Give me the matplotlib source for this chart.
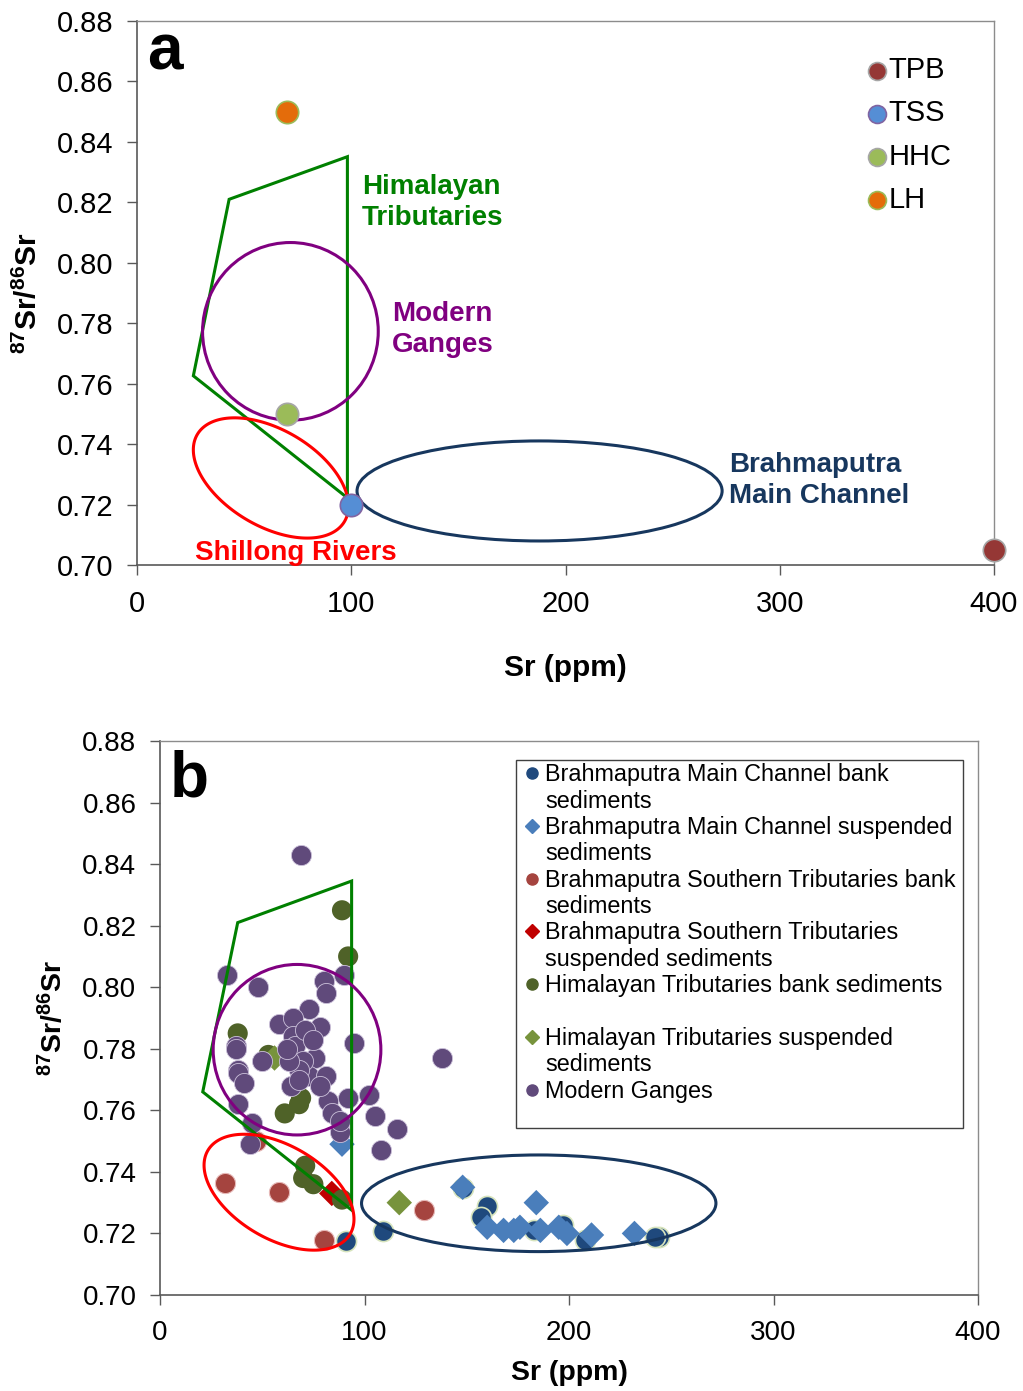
import numpy as np
import matplotlib
matplotlib.use("Agg")
import matplotlib.pyplot as plt
from matplotlib.patches import Ellipse, Polygon, Rectangle
from matplotlib.lines import Line2D

plt.rcParams['font.family'] = ['Liberation Sans', 'DejaVu Sans']
plt.rcParams['mathtext.fontset'] = 'custom'
plt.rcParams['mathtext.rm'] = 'Liberation Sans'
plt.rcParams['mathtext.bf'] = 'Liberation Sans:bold'

# ---------------- data: panel a (end-members) ----------------
src_names = ['TPB', 'TSS', 'HHC', 'LH']
src_sr = [400, 100, 70, 70]
src_ratio = [0.705, 0.720, 0.750, 0.850]
src_colors = ['#953735', '#558ED5', '#9BBB59', '#E46C0A']

# ---------------- data: panel b ----------------
mb_sr = [91, 109, 148, 160, 157, 183, 197, 208, 244, 242]
mb_ratio = [0.7176, 0.7207, 0.7348, 0.729, 0.7254, 0.721, 0.7227, 0.718, 0.7187, 0.719]

ms_sr = [89, 148, 184, 160, 168, 173, 176, 186, 195, 199, 211, 232]
ms_ratio = [0.749, 0.735, 0.730, 0.722, 0.721, 0.721, 0.722, 0.721, 0.722, 0.720, 0.7195, 0.720]

sb_sr = [32, 58, 80, 129, 47]
sb_ratio = [0.7365, 0.7335, 0.718, 0.7276, 0.750]

ss_sr = [84]
ss_ratio = [0.733]

hb_sr = [89, 92, 38, 53, 69, 61, 68, 71, 70, 75, 89]
hb_ratio = [0.825, 0.810, 0.785, 0.778, 0.764, 0.759, 0.762, 0.742, 0.738, 0.736, 0.731]

hs_sr = [56, 117]
hs_ratio = [0.777, 0.730]

mg_sr = [69, 33, 48, 80, 90, 81, 73, 58, 65, 78, 37, 95, 65, 66, 37, 50, 76, 38, 38, 41,
         38, 64, 73, 81, 82, 92, 102, 84, 105, 88, 116, 45, 44, 108, 138, 70, 68, 63, 71,
         62, 75, 68, 78, 88]
mg_ratio = [0.843, 0.804, 0.800, 0.802, 0.804, 0.798, 0.793, 0.788, 0.790, 0.787, 0.781,
            0.782, 0.784, 0.781, 0.780, 0.776, 0.777, 0.773, 0.772, 0.769, 0.762, 0.768,
            0.771, 0.771, 0.763, 0.764, 0.765, 0.759, 0.758, 0.753, 0.754, 0.756, 0.749,
            0.747, 0.777, 0.776, 0.773, 0.776, 0.786, 0.780, 0.783, 0.770, 0.768, 0.7565]

legend_b = [['Brahmaputra Main Channel bank', 'sediments'],
            ['Brahmaputra Main Channel suspended', 'sediments'],
            ['Brahmaputra Southern Tributaries bank', 'sediments'],
            ['Brahmaputra Southern Tributaries', 'suspended sediments'],
            ['Himalayan Tributaries bank sediments', ' '],
            ['Himalayan Tributaries suspended', 'sediments'],
            ['Modern Ganges']]

xticks = [0, 100, 200, 300, 400]
yticks = [0.70, 0.72, 0.74, 0.76, 0.78, 0.80, 0.82, 0.84, 0.86, 0.88]

fig = plt.figure(figsize=(10.23, 13.91), dpi=100)
axa = fig.add_axes([137/1023, 1-565/1391, 857/1023, 544/1391])
axb = fig.add_axes([160/1023, 1-1295/1391, 818/1023, 554/1391])


def style(ax, fs, xpad, ypad):
    ax.set_xlim(0, 400)
    ax.set_ylim(0.70, 0.88)
    ax.set_xticks(xticks)
    ax.set_yticks(yticks)
    ax.set_yticklabels(['%.2f' % v for v in yticks])
    for s in ['top', 'right']:
        ax.spines[s].set_color('#8C8C8C')
        ax.spines[s].set_linewidth(1.0)
    for s in ['left', 'bottom']:
        ax.spines[s].set_color('#595959')
        ax.spines[s].set_linewidth(1.2)
    ax.tick_params(axis='both', direction='out', length=7, width=1, color='#595959',
                   labelsize=fs)
    ax.tick_params(axis='x', pad=xpad)
    ax.tick_params(axis='y', pad=ypad)
    ax.set_xlabel('Sr (ppm)', fontsize=fs + 0.5, fontweight='bold')
    ax.set_ylabel(r'$\mathbf{^{87}Sr/^{86}Sr}$', fontsize=fs + 0.5)


def rotated_ellipse(ax, cx, cy, a_px, b_px, ang, **kw):
    c = ax.transData.transform((cx, cy))
    t = np.linspace(0, 2*np.pi, 200)
    th = np.deg2rad(ang)
    dx = a_px*np.cos(t)*np.cos(th) - b_px*np.sin(t)*np.sin(th)
    dy = a_px*np.cos(t)*np.sin(th) + b_px*np.sin(t)*np.cos(th)
    pts = ax.transData.inverted().transform(np.column_stack([c[0]+dx, c[1]+dy]))
    ax.add_patch(Polygon(pts, closed=True, fill=False, **kw))


# ---------------- panel a ----------------
style(axa, 21, 11, 10)
axa.xaxis.labelpad = 26
axa.yaxis.labelpad = 10
edges_a = ['#A6A6A6', '#8064A2', '#A6A6A6', '#9BBB59']
for n, x, y, c, e in zip(src_names, src_sr, src_ratio, src_colors, edges_a):
    axa.scatter([x], [y], s=260, color=c, edgecolors=e, linewidths=1.2, zorder=5,
                label=n, clip_on=False)

axa.add_patch(Polygon([(43.0, 0.821), (98.2, 0.8351), (98.2, 0.7222), (26.3, 0.7626)],
                      closed=True, fill=False, edgecolor='#008000', lw=2.2, zorder=4))
axa.add_patch(Ellipse((71.6, 0.7773), 82, 0.0588, fill=False, edgecolor='#800080',
                      lw=2.2, zorder=4))
axa.add_patch(Ellipse((187.9, 0.7245), 170.4, 0.0331, fill=False, edgecolor='#17375E',
                      lw=2.2, zorder=4))
rotated_ellipse(axa, 62.5, 0.7288, 85.5, 48.2, -30.6, edgecolor='#FF0000', lw=2.2, zorder=4)

axa.text(105, 0.8295, 'Himalayan\nTributaries', color='#008000', fontsize=20,
         fontweight='bold', va='top', ha='left', linespacing=1.25)
axa.text(119, 0.7875, 'Modern\nGanges', color='#800080', fontsize=20,
         fontweight='bold', va='top', ha='left', linespacing=1.25)
axa.text(276.5, 0.7375, 'Brahmaputra\nMain Channel', color='#17375E', fontsize=20,
         fontweight='bold', va='top', ha='left', linespacing=1.25)
axa.text(27, 0.7041, 'Shillong Rivers', color='#FF0000', fontsize=20,
         fontweight='bold', va='center', ha='left')
axa.text(0.012, 0.997, 'a', transform=axa.transAxes, fontsize=46, fontweight='bold',
         va='top', ha='left')

axa.legend(loc='upper left', bbox_to_anchor=(0.812, 0.962), frameon=False, fontsize=21,
           handletextpad=-0.6, labelspacing=0.52, markerscale=0.8, borderpad=0)

# ---------------- panel b ----------------
style(axb, 20, 11, 10)
axb.xaxis.labelpad = 10
axb.yaxis.labelpad = 10
ms = 210
cols_b = ['#1F497D', '#4A7EBB', '#A5443F', '#C00000', '#4F6228', '#77933C', '#604A7B']
marks_b = ['o', 'D', 'o', 'D', 'o', 'D', 'o']
axb.scatter(mb_sr, mb_ratio, s=ms, marker='o', color=cols_b[0], edgecolors='#D7E4BD',
            linewidths=1.2, zorder=2)
axb.scatter(ms_sr, ms_ratio, s=ms*0.8, marker='D', color=cols_b[1], edgecolors='none',
            zorder=2.1)
axb.scatter(sb_sr, sb_ratio, s=ms, marker='o', color=cols_b[2], edgecolors='#E6B9B8',
            linewidths=0.8, zorder=2.2)
axb.scatter(ss_sr, ss_ratio, s=ms*0.8, marker='D', color=cols_b[3], edgecolors='none',
            zorder=2.3)
axb.scatter(hb_sr, hb_ratio, s=ms, marker='o', color=cols_b[4], edgecolors='none',
            zorder=2.4)
axb.scatter(hs_sr, hs_ratio, s=ms*0.8, marker='D', color=cols_b[5], edgecolors='none',
            zorder=2.5)
axb.scatter(mg_sr, mg_ratio, s=ms, marker='o', color=cols_b[6], edgecolors='#CCC1DA',
            linewidths=0.6, zorder=2.6)

axb.add_patch(Polygon([(38.0, 0.8210), (93.7, 0.8345), (93.7, 0.7276), (20.9, 0.7660)],
                      closed=True, fill=False, edgecolor='#008000', lw=2.2, zorder=4))
axb.add_patch(Ellipse((67.0, 0.7797), 82.0, 0.0554, fill=False, edgecolor='#800080',
                      lw=2.2, zorder=4))
axb.add_patch(Ellipse((185.2, 0.7298), 173.3, 0.0314, fill=False, edgecolor='#17375E',
                      lw=2.2, zorder=4))
rotated_ellipse(axb, 58.2, 0.7334, 82.5, 46.6, -30.4, edgecolor='#FF0000', lw=2.2, zorder=4)

axb.text(0.012, 0.985, 'b', transform=axb.transAxes, fontsize=46, fontweight='bold',
         va='top', ha='left')

axb.add_patch(Rectangle((0.4352, 0.3014), 0.9817-0.4352, 0.9657-0.3014,
                        transform=axb.transAxes, fill=False, edgecolor='#404040', lw=1,
                        zorder=6))
handles, labels = [], []
for lines, c, m in zip(legend_b, cols_b, marks_b):
    for i, line in enumerate(lines):
        if i == 0:
            handles.append(Line2D([], [], linestyle='none', marker=m, color=c,
                                  markersize=8 if m == 'o' else 7))
        else:
            handles.append(Line2D([], [], linestyle='none'))
        labels.append(line)
leg = axb.legend(handles, labels, loc='upper left', bbox_to_anchor=(0.441, 0.96),
                 frameon=False, fontsize=16.8, handletextpad=0.05, labelspacing=0.145,
                 handlelength=1.0, borderpad=0, borderaxespad=0)

fig.savefig('out.png', dpi=100)
